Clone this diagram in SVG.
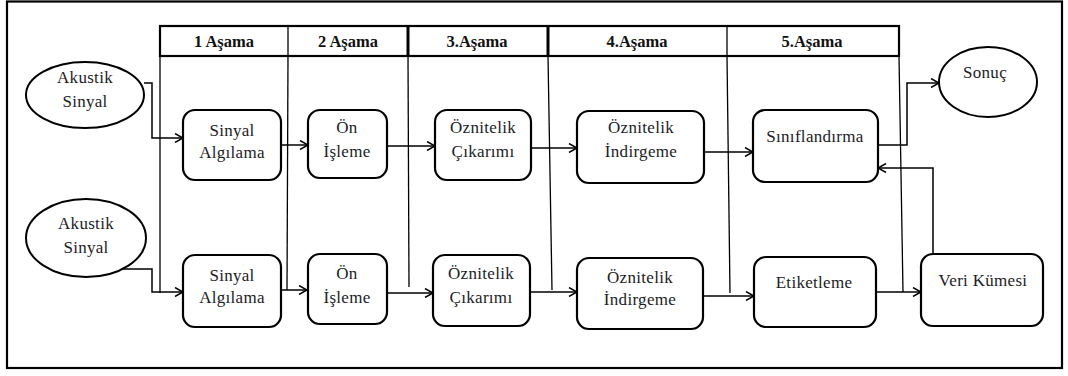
<svg xmlns="http://www.w3.org/2000/svg" width="1068" height="376" viewBox="0 0 1068 376" font-family="'Liberation Serif', 'Times New Roman', serif">
<defs>
<marker id="arr" viewBox="0 0 10 10" refX="9" refY="5" markerWidth="10" markerHeight="10" markerUnits="userSpaceOnUse" orient="auto">
<path d="M1,0.5 L9,5 L1,9.5" fill="none" stroke="#000" stroke-width="1.5"/>
</marker>
</defs>
<style>
.frame{fill:#fff;stroke:#000;stroke-width:2.2}
.hdr{fill:#fff;stroke:#000;stroke-width:2.2}
.lane{stroke:#000;stroke-width:1.3;fill:none}
.thick{stroke:#000;stroke-width:3;fill:none}
.box{fill:#fff;stroke:#000;stroke-width:2.2}
.ell{fill:#fff;stroke:#000;stroke-width:2}
.con{fill:none;stroke:#000;stroke-width:1.5;marker-end:url(#arr)}
.t{font-family:'Liberation Serif','Times New Roman',serif;font-size:17px;letter-spacing:0.3px;fill:#1c1c24;text-anchor:middle}
.h{font-family:'Liberation Serif','Times New Roman',serif;font-weight:bold;font-size:16.5px;fill:#111;text-anchor:middle}
</style>
<rect class="frame" x="7" y="1.5" width="1055" height="366.5"/>
<g id="header">
<rect class="hdr" x="160" y="26" width="739" height="30"/>
<line class="lane" x1="288" y1="26" x2="288" y2="56"/>
<line class="thick" x1="408" y1="26" x2="408" y2="56"/>
<line class="thick" x1="548" y1="26" x2="548" y2="56"/>
<line class="lane" x1="727" y1="26" x2="727" y2="56"/>
<text class="h" x="224" y="47">1 Aşama</text>
<text class="h" x="348" y="47">2 Aşama</text>
<text class="h" x="477" y="47">3.Aşama</text>
<text class="h" x="637" y="47">4.Aşama</text>
<text class="h" x="812" y="47">5.Aşama</text>
</g>
<g id="lanes">
<line class="lane" x1="160" y1="56" x2="160" y2="293"/>
<line class="lane" x1="288" y1="56" x2="287" y2="290"/>
<line class="lane" x1="408" y1="56" x2="409" y2="287"/>
<line class="lane" x1="548" y1="56" x2="552" y2="290"/>
<line class="lane" x1="727" y1="56" x2="730" y2="293"/>
<line class="lane" x1="899" y1="56" x2="903" y2="292"/>
</g>
<g id="connectors">
<path class="con" d="M144,83 H152 V138 H183"/>
<path class="con" d="M281,145 H308"/>
<path class="con" d="M387,146 H435"/>
<path class="con" d="M531,148 H577"/>
<path class="con" d="M705,152 H753"/>
<path class="con" d="M878,145 H907 V83 H939"/>
<path class="con" d="M933,254 V168 H878"/>
<path class="con" d="M123,269 H152 V292 H183"/>
<path class="con" d="M281,290 H307"/>
<path class="con" d="M387,293 H433"/>
<path class="con" d="M530,292 H577"/>
<path class="con" d="M703,296 H754"/>
<path class="con" d="M876,292 H921"/>
</g>
<g id="akustik1">
<ellipse class="ell" cx="85" cy="95" rx="59" ry="33"/>
<text class="t" x="85" y="83">Akustik</text>
<text class="t" x="85" y="107">Sinyal</text>
</g>
<g id="sinyal1">
<rect class="box" x="183" y="110" width="98" height="70" rx="12"/>
<text class="t" x="232" y="136">Sinyal</text>
<text class="t" x="232" y="158">Algılama</text>
</g>
<g id="on1">
<rect class="box" x="308" y="110" width="79" height="68" rx="12"/>
<text class="t" x="347" y="133">Ön</text>
<text class="t" x="347" y="157">İşleme</text>
</g>
<g id="cikarim1">
<rect class="box" x="435" y="110" width="96" height="70" rx="12"/>
<text class="t" x="483" y="133">Öznitelik</text>
<text class="t" x="483" y="157">Çıkarımı</text>
</g>
<g id="indirgeme1">
<rect class="box" x="577" y="111" width="127" height="72" rx="12"/>
<text class="t" x="641" y="133">Öznitelik</text>
<text class="t" x="641" y="157">İndirgeme</text>
</g>
<g id="siniflandirma">
<rect class="box" x="753" y="110" width="125" height="72" rx="12"/>
<text class="t" x="815" y="142">Sınıflandırma</text>
</g>
<g id="sonuc">
<ellipse class="ell" cx="988" cy="82" rx="49" ry="35"/>
<text class="t" x="985" y="78">Sonuç</text>
</g>
<g id="akustik2">
<ellipse class="ell" cx="86" cy="238" rx="60" ry="39"/>
<text class="t" x="86" y="229">Akustik</text>
<text class="t" x="86" y="253">Sinyal</text>
</g>
<g id="sinyal2">
<rect class="box" x="183" y="255" width="98" height="72" rx="12"/>
<text class="t" x="232" y="281">Sinyal</text>
<text class="t" x="232" y="303">Algılama</text>
</g>
<g id="on2">
<rect class="box" x="308" y="254" width="79" height="70" rx="12"/>
<text class="t" x="347" y="279">Ön</text>
<text class="t" x="347" y="303">İşleme</text>
</g>
<g id="cikarim2">
<rect class="box" x="433" y="255" width="97" height="71" rx="12"/>
<text class="t" x="481" y="279">Öznitelik</text>
<text class="t" x="481" y="303">Çıkarımı</text>
</g>
<g id="indirgeme2">
<rect class="box" x="577" y="258" width="126" height="71" rx="12"/>
<text class="t" x="640" y="283">Öznitelik</text>
<text class="t" x="640" y="305">İndirgeme</text>
</g>
<g id="etiketleme">
<rect class="box" x="754" y="257" width="122" height="70" rx="12"/>
<text class="t" x="814" y="288">Etiketleme</text>
</g>
<g id="veri">
<rect class="box" x="921" y="254" width="122" height="72" rx="12"/>
<text class="t" x="983" y="286">Veri Kümesi</text>
</g>
</svg>
